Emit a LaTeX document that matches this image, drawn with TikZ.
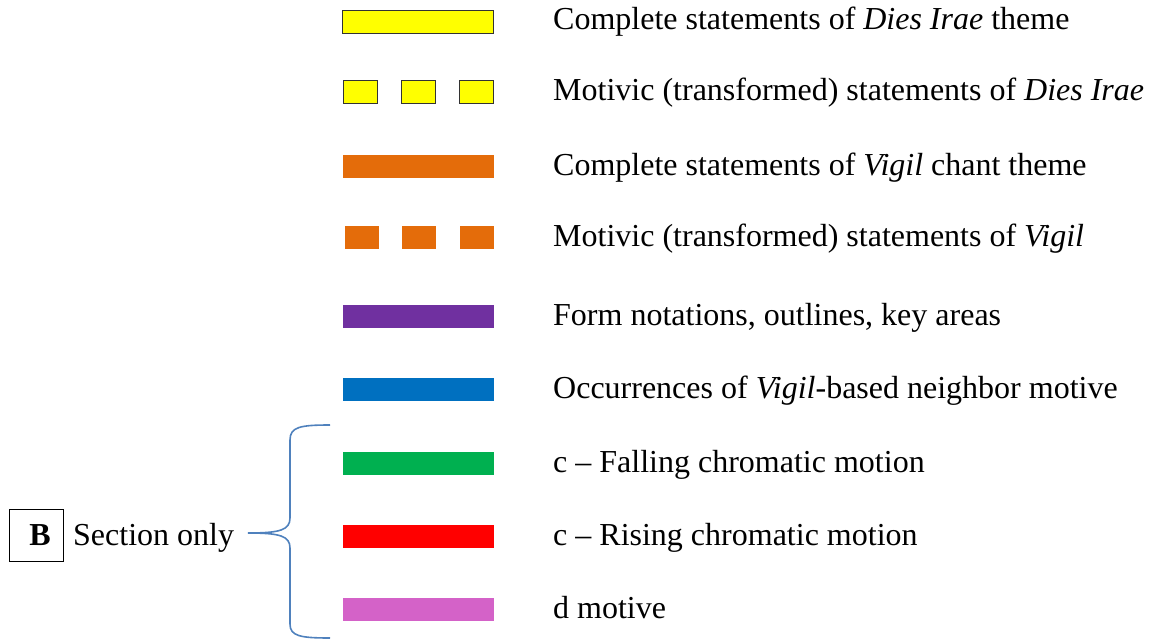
\documentclass[tikz,border=0pt]{standalone}
\usepackage{fontspec}
\setmainfont{Liberation Serif}
\usetikzlibrary{positioning}
\definecolor{dieyellow}{HTML}{FFFF00}
\definecolor{vigorange}{HTML}{E46C0A}
\definecolor{formpurple}{HTML}{7030A0}
\definecolor{neighblue}{HTML}{0070C0}
\definecolor{fallgreen}{HTML}{00B050}
\definecolor{risered}{HTML}{FF0000}
\definecolor{dpink}{HTML}{D462C8}
\definecolor{bracecol}{HTML}{4F81BD}
\tikzstyle{bar} = [rectangle, minimum width=151pt, minimum height=23pt, inner sep=0pt]
\tikzstyle{chip} = [rectangle, minimum width=34pt, minimum height=23pt, inner sep=0pt]
\tikzstyle{label} = [anchor=base west, inner sep=0pt, font=\fontsize{32}{34}\selectfont]

\begin{document}
\begin{tikzpicture}[x=1pt, y=-1pt]
		\useasboundingbox (0,0) rectangle (1152,640);
		% full and motivic themes
		\node [bar, fill=dieyellow, draw=black!80, line width=0.8pt] (diesfull) at (418,21.5) {};
		\node [chip, fill=dieyellow, draw=black!80, line width=0.8pt] (dies1) at (360.5,91.5) {};
		\node [chip, fill=dieyellow, draw=black!80, line width=0.8pt] (dies2) at (418.5,91.5) {};
		\node [chip, fill=dieyellow, draw=black!80, line width=0.8pt] (dies3) at (476.5,91.5) {};
		\node [bar, fill=vigorange] (vigfull) at (418,166) {};
		\node [chip, fill=vigorange] (vig1) at (362,237.5) {};
		\node [chip, fill=vigorange] (vig2) at (419,237.5) {};
		\node [chip, fill=vigorange] (vig3) at (477,237.5) {};
		\node [bar, fill=formpurple] (form) at (418,316.5) {};
		\node [bar, fill=neighblue] (neigh) at (418,389.5) {};
		\node [bar, fill=fallgreen] (fall) at (418,463.5) {};
		\node [bar, fill=risered] (rise) at (418,536.5) {};
		\node [bar, fill=dpink] (dmot) at (418,609.5) {};
		
		\node [label] (diesfulltxt) at (553,29.5) {Complete statements of \textit{Dies Irae} theme};
		\node [label] (diestxt) at (553,100) {Motivic (transformed) statements of \textit{Dies Irae}};
		\node [label] (vigfulltxt) at (553,175) {Complete statements of \textit{Vigil} chant theme};
		\node [label] (vigtxt) at (553,246.5) {Motivic (transformed) statements of \textit{Vigil}};
		\node [label] (formtxt) at (553,325.5) {Form notations, outlines, key areas};
		\node [label] (neightxt) at (553,398.5) {Occurrences of \textit{Vigil}-based neighbor motive};
		\node [label] (falltxt) at (553,472.5) {c -- Falling chromatic motion};
		\node [label] (risetxt) at (553,545.5) {c -- Rising chromatic motion};
		\node [label] (dmottxt) at (553,618.5) {d motive};
		
		% section B
		\node [draw, line width=1pt, minimum width=54pt, minimum height=52pt, inner sep=0pt, font=\fontsize{32}{34}\selectfont\bfseries] (boxb) at (36,535) {\hspace*{8pt}B};
		\node [label] (secb) at (73,545) {Section only};
		
		\coordinate (bracetop) at (330,425);
		\coordinate (bracetip) at (248,533);
		\coordinate (bracebot) at (330,638);
		\draw [bracecol, line width=1.6pt] (bracetop) .. controls (300,425) and (290,427) .. (290,440) -- (290,518)
			.. controls (290,530) and (280,533) .. (bracetip)
			.. controls (280,533) and (290,536) .. (290,548) -- (290,624)
			.. controls (290,636) and (300,638) .. (bracebot);
	\end{tikzpicture}
\end{document}
